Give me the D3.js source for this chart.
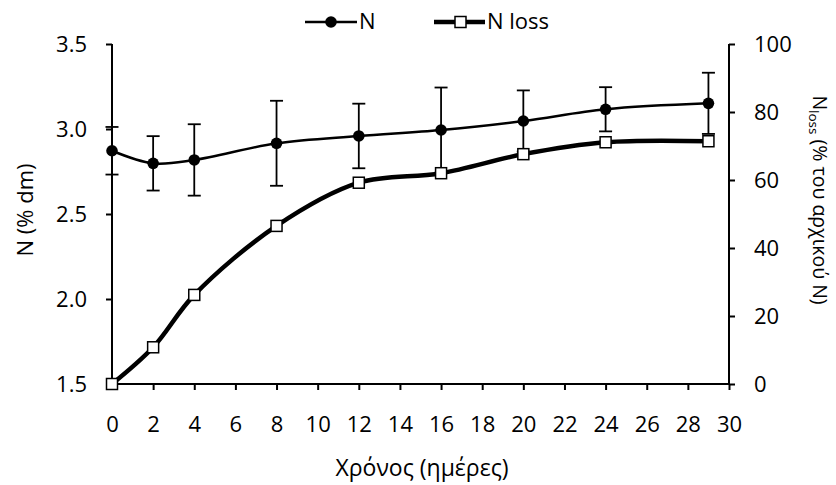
<!DOCTYPE html>
<html>
<head>
<meta charset="utf-8">
<script src="https://cdnjs.cloudflare.com/ajax/libs/d3/7.8.5/d3.min.js"></script>
<style>
  html, body { margin: 0; padding: 0; background: #fff; }
  text { font-family: "Open Sans", sans-serif; fill: #000; }
</style>
</head>
<body>
<svg id="chart" width="836" height="485"></svg>
<script>
const days = [0, 2, 4, 8, 12, 16, 20, 24, 29];
const nValues = [2.872, 2.798, 2.818, 2.916, 2.959, 2.994, 3.047, 3.116, 3.151];
const nErrors = [0.14, 0.16, 0.21, 0.25, 0.19, 0.25, 0.18, 0.13, 0.18];
const nLossValues = [0, 10.8, 26.2, 46.5, 59.2, 62.0, 67.6, 71.1, 71.4];
const xTicks = d3.range(0, 31, 2);
const leftTicks = [1.5, 2.0, 2.5, 3.0, 3.5];
const rightTicks = [0, 20, 40, 60, 80, 100];

const svg = d3.select("#chart");
const x = d3.scaleLinear().domain([0, 30]).range([112, 729]);
const yL = d3.scaleLinear().domain([1.5, 3.5]).range([384, 44]);
const yR = d3.scaleLinear().domain([0, 100]).range([384, 44]);
const fs = 22;

// Axes
const gx = svg.append("g").attr("transform", "translate(0,384)")
  .call(d3.axisBottom(x).tickValues(xTicks).tickSize(6).tickPadding(26).tickFormat(d3.format("d")));
const gl = svg.append("g").attr("transform", "translate(112,0)")
  .call(d3.axisLeft(yL).tickValues(leftTicks).tickSize(6).tickPadding(19).tickFormat(d3.format(".1f")));
const gr = svg.append("g").attr("transform", "translate(729,0)")
  .call(d3.axisRight(yR).tickValues(rightTicks).tickSize(6).tickPadding(19).tickFormat(d3.format("d")));
[gx, gl, gr].forEach(g => {
  g.select(".domain").attr("stroke", "#000").attr("stroke-width", 2);
  g.selectAll(".tick line").attr("stroke", "#000").attr("stroke-width", 2);
  g.selectAll(".tick text").attr("font-size", fs).attr("font-family", "'Open Sans', sans-serif").attr("fill", "#000");
});
gx.select(".domain").attr("d", "M112,0H729");
gl.select(".domain").attr("d", "M0,44V384");
gr.select(".domain").attr("d", "M0,44V384");

// Lines
const curve = d3.curveCatmullRom.alpha(0.5);
const lineN = d3.line().x((d, i) => x(days[i])).y(d => yL(d)).curve(curve);
const lineL = d3.line().x((d, i) => x(days[i])).y(d => yR(d)).curve(curve);

svg.append("path").attr("d", lineL(nLossValues)).attr("fill", "none").attr("stroke", "#000").attr("stroke-width", 4.5);
svg.append("path").attr("d", lineN(nValues)).attr("fill", "none").attr("stroke", "#000").attr("stroke-width", 2.5);

// Error bars
const eb = svg.append("g").attr("stroke", "#000").attr("stroke-width", 1.8);
days.forEach((d, i) => {
  const cx = x(d), top = yL(nValues[i] + nErrors[i]), bot = yL(nValues[i] - nErrors[i]);
  eb.append("line").attr("x1", cx).attr("x2", cx).attr("y1", top).attr("y2", bot);
  eb.append("line").attr("x1", cx - 6.5).attr("x2", cx + 6.5).attr("y1", top).attr("y2", top);
  eb.append("line").attr("x1", cx - 6.5).attr("x2", cx + 6.5).attr("y1", bot).attr("y2", bot);
});

// Markers
svg.append("g").selectAll("rect").data(nLossValues).join("rect")
  .attr("x", (d, i) => x(days[i]) - 5.5).attr("y", d => yR(d) - 5.5)
  .attr("width", 11).attr("height", 11).attr("fill", "#fff").attr("stroke", "#000").attr("stroke-width", 1.5);
svg.append("g").selectAll("circle").data(nValues).join("circle")
  .attr("cx", (d, i) => x(days[i])).attr("cy", d => yL(d)).attr("r", 5.8).attr("fill", "#000");

// Axis titles
svg.append("text").attr("x", 422).attr("y", 476).attr("text-anchor", "middle").attr("font-size", 23).text("Χρόνος (ημέρες)");
svg.append("text").attr("transform", "translate(33,210) rotate(-90)").attr("text-anchor", "middle").attr("font-size", fs).text("N (% dm)");
const rt = svg.append("text").attr("transform", "translate(813,200) rotate(90)").attr("text-anchor", "middle").attr("font-size", 19.5);
rt.append("tspan").text("N");
rt.append("tspan").attr("font-size", 13.5).attr("dy", 4).text("loss");
rt.append("tspan").attr("dy", -4).text(" (% του αρχικού N)");

// Legend
const lg = svg.append("g");
lg.append("line").attr("x1", 305).attr("x2", 357).attr("y1", 22).attr("y2", 22).attr("stroke", "#000").attr("stroke-width", 2.5);
lg.append("circle").attr("cx", 331).attr("cy", 22).attr("r", 5.8).attr("fill", "#000");
lg.append("text").attr("x", 359).attr("y", 29).attr("font-size", fs).text("N");
lg.append("line").attr("x1", 434).attr("x2", 485).attr("y1", 22).attr("y2", 22).attr("stroke", "#000").attr("stroke-width", 4.5);
lg.append("rect").attr("x", 455).attr("y", 16.5).attr("width", 11).attr("height", 11).attr("fill", "#fff").attr("stroke", "#000").attr("stroke-width", 1.5);
lg.append("text").attr("x", 487).attr("y", 29).attr("font-size", fs).text("N loss");
</script>
</body>
</html>
